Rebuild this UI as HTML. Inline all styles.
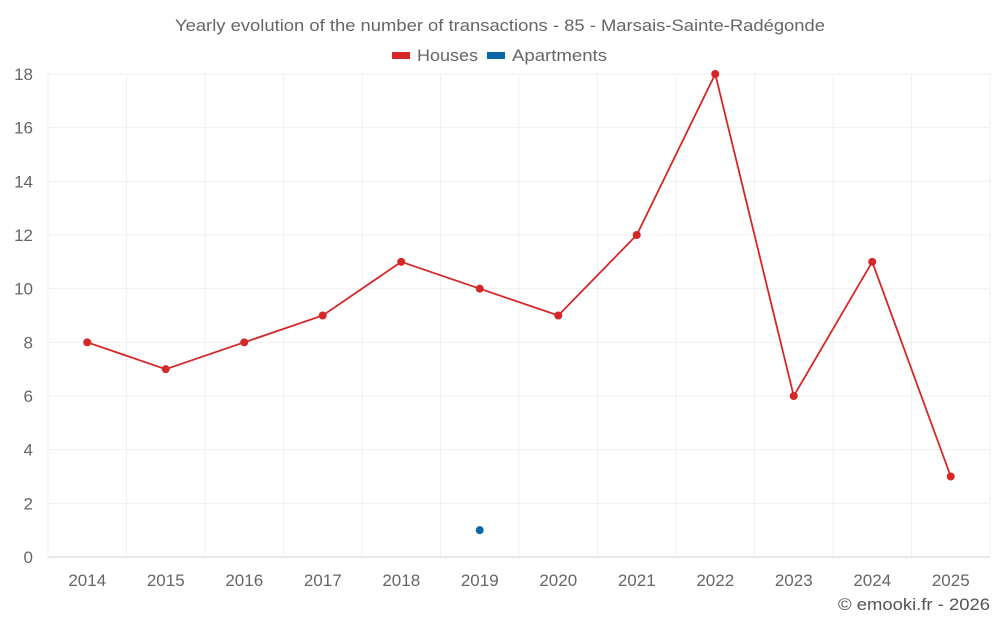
<!DOCTYPE html>
<html><head><meta charset="utf-8"><style>
html,body{margin:0;padding:0;background:#fff;}
svg{display:block;font-family:"Liberation Sans",sans-serif;}
</style></head><body>
<svg id="chart" width="1000" height="625">
<text x="500" y="31" text-anchor="middle" font-size="17" fill="#666" textLength="650" lengthAdjust="spacingAndGlyphs">Yearly evolution of the number of transactions - 85 - Marsais-Sainte-Radégonde</text>
<g>
<g><rect x="392" y="52" width="18" height="7" fill="#d62728"/><text x="417" y="61" font-size="17" fill="#666" textLength="61" lengthAdjust="spacingAndGlyphs">Houses</text></g>
<g><rect x="487" y="52" width="18" height="7" fill="#0868a6"/><text x="512" y="61" font-size="17" fill="#666" textLength="95" lengthAdjust="spacingAndGlyphs">Apartments</text></g>
</g>
<g id="grid"></g><g id="axes"></g><g id="marks"></g>
<text x="990" y="610" text-anchor="end" font-size="17" fill="#555" textLength="152" lengthAdjust="spacingAndGlyphs">© emooki.fr - 2026</text>
</svg>
<script>
const years = ["2014","2015","2016","2017","2018","2019","2020","2021","2022","2023","2024","2025"];
const houses = [8,7,8,9,11,10,9,12,18,6,11,3];
const apartments = [null,null,null,null,null,1,null,null,null,null,null,null];
const yTicks = [0,2,4,6,8,10,12,14,16,18];
const L=48,R=990,T=74,B=557,yMax=18;
const step=(R-L)/years.length;
const xs=i=>L+step*(i+0.5);
const ys=v=>B-(v/yMax)*(B-T);
const NS="http://www.w3.org/2000/svg";
function mk(tag,attrs,parent){const e=document.createElementNS(NS,tag);for(const k in attrs)e.setAttribute(k,attrs[k]);parent.appendChild(e);return e;}
const grid=document.getElementById('grid'),axes=document.getElementById('axes'),marks=document.getElementById('marks');
yTicks.forEach(t=>{
 const l=mk('line',{x1:L,x2:R,y1:ys(t),y2:ys(t),stroke:t===0?'#d0d0d0':'#f0f0f0','stroke-width':1},grid);
 
 
 const tx=mk('text',{x:33,y:ys(t)+6,'text-anchor':'end','font-size':17,fill:'#666'},axes);
 tx.textContent=t;
 
 
});
for(let i=0;i<=years.length;i++){
 const x=L+step*i;
 const l=mk('line',{x1:x,x2:x,y1:T,y2:B,stroke:'#f0f0f0','stroke-width':1},grid);
 
 
}
years.forEach((y,i)=>{
 const tx=mk('text',{x:xs(i),y:586,'text-anchor':'middle','font-size':17,fill:'#666'},axes);
 tx.textContent=y;
 
 
});
const pts=houses.map((v,i)=>xs(i)+','+ys(v)).join(' ');
const pl=mk('polyline',{points:pts,fill:'none',stroke:'#d62728','stroke-width':1.8},marks);


houses.forEach((v,i)=>{
 const c=mk('circle',{cx:xs(i),cy:ys(v),r:4,fill:'#d62728'},marks);
 
 
});
apartments.forEach((v,i)=>{
 if(v===null)return;
 const c=mk('circle',{cx:xs(i),cy:ys(v),r:4,fill:'#0868a6'},marks);
 
 
});
</script>
</body></html>
